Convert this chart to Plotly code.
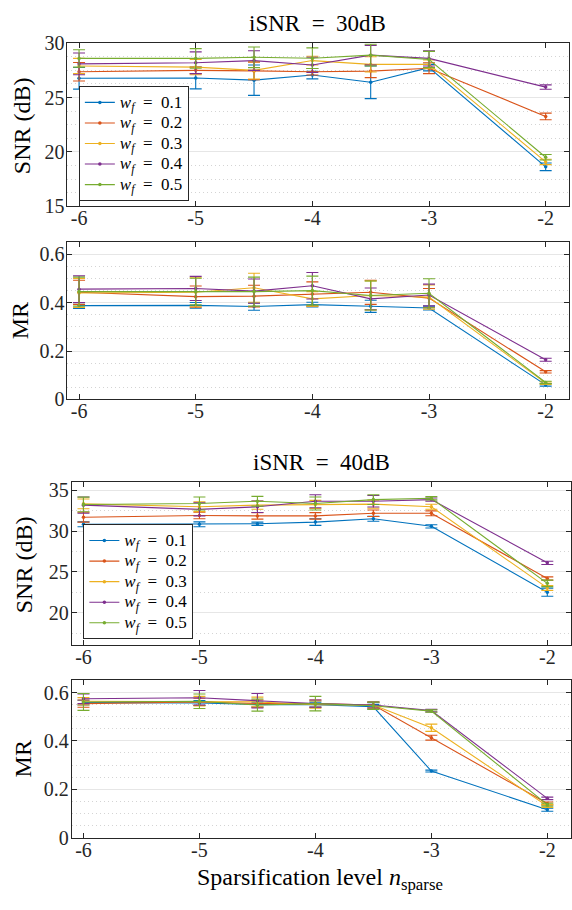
import plotly.graph_objects as go

# ---------------- data ----------------
x_levels = [-6, -5, -4.5, -4, -3.5, -3, -2]
x_tickvals = [-6, -5, -4, -3, -2]
x_ticktext = ["-6", "-5", "-4", "-3", "-2"]
wf_labels = ["0.1", "0.2", "0.3", "0.4", "0.5"]
colors = ["#0072BD", "#D95319", "#EDB120", "#7E2F8E", "#77AC30"]

# iSNR = 30 dB
snr30_w1 = [26.77, 26.8, 26.6, 27.07, 26.4, 27.75, 18.62]
snr30_w2 = [27.37, 27.5, 27.45, 27.37, 27.43, 27.7, 23.26]
snr30_w3 = [27.9, 27.8, 27.5, 28.4, 28.05, 28.05, 19.07]
snr30_w4 = [28.1, 28.2, 28.4, 28.0, 28.9, 28.6, 25.96]
snr30_w5 = [28.6, 28.6, 28.7, 28.62, 28.9, 28.5, 19.5]
snr30_e1 = [1.0, 1.0, 1.4, 0.35, 1.5, 0.3, 0.35]
snr30_e2 = [0.85, 0.3, 0.8, 0.3, 0.6, 0.5, 0.3]
snr30_e3 = [0.7, 0.7, 0.8, 0.4, 0.7, 0.4, 0.25]
snr30_e4 = [1.0, 1.0, 0.9, 0.7, 0.9, 0.7, 0.2]
snr30_e5 = [0.8, 0.9, 0.95, 0.95, 1.0, 0.75, 0.25]

mr30_w1 = [0.388, 0.389, 0.384, 0.392, 0.385, 0.378, 0.06]
mr30_w2 = [0.443, 0.425, 0.427, 0.436, 0.443, 0.419, 0.114]
mr30_w3 = [0.44, 0.443, 0.462, 0.416, 0.43, 0.423, 0.067]
mr30_w4 = [0.456, 0.459, 0.448, 0.47, 0.416, 0.432, 0.164]
mr30_w5 = [0.446, 0.446, 0.446, 0.45, 0.43, 0.439, 0.07]
mr30_e1 = [0.012, 0.012, 0.015, 0.01, 0.025, 0.008, 0.005]
mr30_e2 = [0.05, 0.044, 0.045, 0.05, 0.05, 0.04, 0.005]
mr30_e3 = [0.06, 0.06, 0.06, 0.03, 0.06, 0.05, 0.005]
mr30_e4 = [0.055, 0.05, 0.05, 0.055, 0.045, 0.045, 0.006]
mr30_e5 = [0.06, 0.055, 0.06, 0.06, 0.06, 0.06, 0.005]

# iSNR = 40 dB
snr40_w1 = [30.84, 30.84, 30.92, 31.12, 31.52, 30.6, 22.52]
snr40_w2 = [31.72, 31.92, 31.88, 31.88, 32.2, 32.2, 24.2]
snr40_w3 = [33.36, 33.0, 33.2, 33.28, 33.32, 33.0, 23.04]
snr40_w4 = [33.2, 32.68, 33.0, 33.68, 33.68, 33.88, 26.12]
snr40_w5 = [33.28, 33.4, 33.68, 33.4, 33.88, 34.04, 23.6]
snr40_e1 = [0.3, 0.3, 0.2, 0.4, 0.3, 0.2, 0.5]
snr40_e2 = [0.6, 0.4, 0.4, 0.4, 0.4, 0.3, 0.2]
snr40_e3 = [0.6, 0.6, 0.5, 0.5, 0.5, 0.3, 0.3]
snr40_e4 = [1.0, 0.8, 0.7, 0.8, 0.7, 0.2, 0.2]
snr40_e5 = [0.9, 0.8, 0.6, 0.8, 0.6, 0.2, 0.4]

mr40_w1 = [0.558, 0.557, 0.55, 0.55, 0.541, 0.275, 0.115]
mr40_w2 = [0.554, 0.561, 0.554, 0.554, 0.548, 0.413, 0.141]
mr40_w3 = [0.564, 0.564, 0.561, 0.55, 0.548, 0.454, 0.13]
mr40_w4 = [0.574, 0.578, 0.566, 0.554, 0.548, 0.525, 0.162]
mr40_w5 = [0.561, 0.564, 0.548, 0.554, 0.545, 0.523, 0.136]
mr40_e1 = [0.01, 0.01, 0.01, 0.01, 0.01, 0.004, 0.006]
mr40_e2 = [0.015, 0.015, 0.015, 0.015, 0.012, 0.01, 0.006]
mr40_e3 = [0.015, 0.02, 0.02, 0.015, 0.012, 0.015, 0.006]
mr40_e4 = [0.02, 0.03, 0.03, 0.015, 0.012, 0.005, 0.005]
mr40_e5 = [0.035, 0.03, 0.025, 0.03, 0.015, 0.005, 0.006]

panels = [
    ([snr30_w1, snr30_w2, snr30_w3, snr30_w4, snr30_w5],
     [snr30_e1, snr30_e2, snr30_e3, snr30_e4, snr30_e5], "x", "y", "legend"),
    ([mr30_w1, mr30_w2, mr30_w3, mr30_w4, mr30_w5],
     [mr30_e1, mr30_e2, mr30_e3, mr30_e4, mr30_e5], "x2", "y2", None),
    ([snr40_w1, snr40_w2, snr40_w3, snr40_w4, snr40_w5],
     [snr40_e1, snr40_e2, snr40_e3, snr40_e4, snr40_e5], "x3", "y3", "legend2"),
    ([mr40_w1, mr40_w2, mr40_w3, mr40_w4, mr40_w5],
     [mr40_e1, mr40_e2, mr40_e3, mr40_e4, mr40_e5], "x4", "y4", None),
]

FONT = "Liberation Serif, DejaVu Serif, serif"
AX = "#262626"
W, H = 572, 910
SP = "\u2002"

fig = go.Figure()
for series, errs, xa, ya, leg in panels:
    for i in range(5):
        label = ('<span style="font-size:17px"><i>w</i><sub><i>f</i></sub>'
                 + SP + "=" + SP + wf_labels[i] + "</span>")
        fig.add_trace(go.Scatter(
            x=x_levels, y=series[i], xaxis=xa, yaxis=ya,
            mode="lines+markers",
            line=dict(color=colors[i], width=1.1),
            marker=dict(color=colors[i], size=3.5),
            error_y=dict(type="data", array=errs[i], color=colors[i],
                         thickness=1.1, width=6),
            name=label,
            showlegend=leg is not None,
            legend=leg if leg else "legend",
        ))

def px_x(a, b):
    return [a / W, b / W]

def px_y(top, bottom):
    return [(H - bottom) / H, (H - top) / H]

common_x = dict(
    range=[-6.1, -1.8], tickvals=x_tickvals, ticktext=x_ticktext,
    ticks="inside", ticklen=5, tickcolor=AX, showline=True, linecolor=AX,
    linewidth=1, mirror="allticks", showgrid=False, zeroline=False,
    ticklabelstandoff=-6,
    tickfont=dict(family=FONT, size=20, color=AX),
)
common_y = dict(
    ticks="inside", ticklen=5, tickcolor=AX, showline=True, linecolor=AX,
    linewidth=1, mirror="allticks", showgrid=True, gridcolor="#e6e6e6",
    gridwidth=1, zeroline=False, ticklabelstandoff=-2,
    tickfont=dict(family=FONT, size=20, color=AX),
)
minor_style = dict(showgrid=True, griddash="1px,3px", gridcolor="#d4d4d4",
                   gridwidth=1, ticks="")

legend_style = dict(xanchor="left", yanchor="top", bgcolor="white",
                    bordercolor=AX, borderwidth=1,
                    font=dict(family=FONT, size=13.5, color="#000000"),
                    tracegroupgap=0, itemwidth=30)

fig.update_layout(
    width=W, height=H, margin=dict(l=0, r=0, t=0, b=0),
    paper_bgcolor="white", plot_bgcolor="white",
    font=dict(family=FONT, color=AX),
    xaxis=dict(common_x, domain=px_x(67.5, 570), anchor="y"),
    yaxis=dict(common_y, domain=px_y(33, 200), anchor="x", range=[15, 30],
               dtick=5, tick0=0, minor=dict(minor_style, dtick=1.25)),
    xaxis2=dict(common_x, domain=px_x(67.5, 570), anchor="y2"),
    yaxis2=dict(common_y, domain=px_y(237, 398), anchor="x2", range=[0, 0.65],
                dtick=0.2, tick0=0, minor=dict(minor_style, dtick=0.05)),
    xaxis3=dict(common_x, domain=px_x(72, 571.5), anchor="y3"),
    yaxis3=dict(common_y, domain=px_y(483, 650), anchor="x3", range=[16, 36],
                dtick=5, tick0=0, minor=dict(minor_style, dtick=2.5)),
    xaxis4=dict(common_x, domain=px_x(72, 571.5), anchor="y4"),
    yaxis4=dict(common_y, domain=px_y(686, 847), anchor="x4", range=[0, 0.65],
                dtick=0.2, tick0=0, minor=dict(minor_style, dtick=0.05)),
    legend=dict(legend_style, x=79 / W, y=(H - 77) / H),
    legend2=dict(legend_style, x=83.5 / W, y=(H - 526) / H),
)

ann = []
def text(x, y, s, size=23, angle=0):
    ann.append(dict(x=x / W, y=(H - y) / H, xref="paper", yref="paper",
                    text=s, showarrow=False, textangle=angle,
                    xanchor="center", yanchor="middle",
                    font=dict(family=FONT, size=size, color="#000000")))

text(318, 13, "iSNR" + SP + "=" + SP + "30dB")
text(322, 463, "iSNR" + SP + "=" + SP + "40dB")
text(22, 117, "SNR (dB)", size=24, angle=-90)
text(20, 317, "MR", size=24, angle=-90)
text(24, 567, "SNR (dB)", size=24, angle=-90)
text(24, 766, "MR", size=24, angle=-90)
text(321, 890, "Sparsification level <i>n</i><sub>sparse</sub>", size=24)
fig.update_layout(annotations=ann)

fig.write_html(
    "out.html",
    config={"displayModeBar": False},
    post_script="document.body.style.margin='0';document.body.style.overflow='hidden';",
)
